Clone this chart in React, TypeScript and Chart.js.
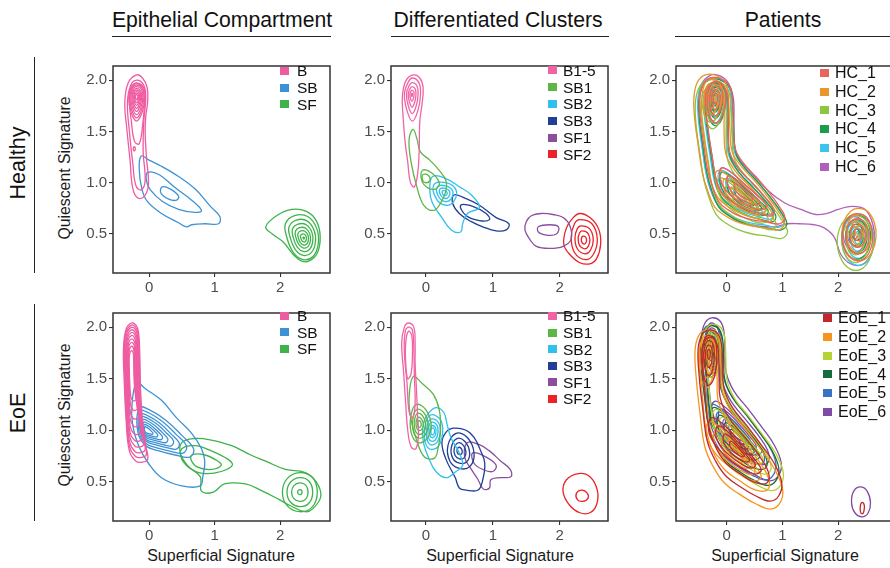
import React, { useEffect, useRef } from "react";
import { Chart, registerables } from "chart.js";
Chart.register(...registerables);

type Pt = [number, number];
type Ring = { pts: Pt[]; color: string };

const FONT = "'Liberation Sans', Arial, Helvetica, sans-serif";
Chart.defaults.font.family = FONT;

// ---------- axes / text ----------
const X_TICKS = [0, 1, 2];
const Y_TICKS = [0.5, 1.0, 1.5, 2.0];
const Y_MIN = 0.12;
const Y_MAX = 2.137;
const COL_X_MIN = [-0.55, -0.52, -0.91];
const COL_X_MAX = [2.76, 2.72, 3.11];

const COLUMN_TITLES = ["Epithelial Compartment", "Differentiated Clusters", "Patients"];
const ROW_TITLES = ["Healthy", "EoE"];
const Y_TITLE = "Quiescent Signature";
const X_TITLE = "Superficial Signature";

const COMP_LABELS = ["B", "SB", "SF"];
const COMP_COLORS = ["#EF5BA1", "#3D92D5", "#3DB34A"];
const CLUSTER_LABELS = ["B1-5", "SB1", "SB2", "SB3", "SF1", "SF2"];
const CLUSTER_COLORS = ["#F064A6", "#5DB545", "#2FC0EE", "#203F95", "#8C4E9F", "#EC2227"];
const HC_LABELS = ["HC_1", "HC_2", "HC_3", "HC_4", "HC_5", "HC_6"];
const HC_COLORS = ["#E9645A", "#E8962B", "#8DC63F", "#1A9C4A", "#3BC4EE", "#B060B8"];
const EOE_LABELS = ["EoE_1", "EoE_2", "EoE_3", "EoE_4", "EoE_5", "EoE_6"];
const EOE_COLORS = ["#C1272D", "#F7941D", "#B5D334", "#166B3A", "#3A73C4", "#7F4CA5"];

// ---------- Healthy / Epithelial compartment ----------
const H1_B_OUTER: Pt[] = [[-0.19,2.05],[-0.1,2.02],[-0.03,1.93],[-0.02,1.8],[-0.05,1.65],[-0.06,1.5],[-0.04,1.25],[-0.01,0.98],[-0.07,0.87],[-0.17,0.85],[-0.25,0.95],[-0.29,1.22],[-0.34,1.53],[-0.37,1.78],[-0.32,1.97]];
const H1_B_MID: Pt[] = [[-0.19,2.0],[-0.09,1.96],[-0.05,1.85],[-0.08,1.6],[-0.09,1.3],[-0.06,1.02],[-0.12,0.93],[-0.2,0.97],[-0.25,1.2],[-0.3,1.5],[-0.33,1.78],[-0.28,1.95]];
const H1_B_LONG: Pt[] = [[-0.19,1.97],[-0.1,1.92],[-0.07,1.8],[-0.1,1.55],[-0.15,1.38],[-0.22,1.4],[-0.27,1.6],[-0.3,1.8],[-0.26,1.93]];
const H1_B_SPOT: Pt[] = [[-0.23,1.35],[-0.21,1.34],[-0.22,1.31],[-0.24,1.32]];
const H1_B_CORE: Pt[] = [[-0.19,1.98],[-0.08,1.94],[-0.05,1.83],[-0.1,1.67],[-0.19,1.58],[-0.28,1.67],[-0.32,1.82],[-0.28,1.94]];
const H1_B_CENTER: Pt = [-0.19, 1.84];
const H1_B_LEVELS = [0.92, 0.8, 0.68, 0.56, 0.45, 0.34, 0.24, 0.13];
const H1_SB_OUTER: Pt[] = [[-0.12,1.26],[0.0,1.22],[0.19,1.16],[0.45,1.06],[0.7,0.94],[0.95,0.76],[1.08,0.67],[1.06,0.6],[0.85,0.6],[0.65,0.59],[0.57,0.57],[0.45,0.61],[0.19,0.7],[-0.03,0.82],[-0.11,0.94],[-0.15,1.13]];
const H1_SB_MID: Pt[] = [[-0.02,1.1],[0.15,1.08],[0.4,0.95],[0.65,0.83],[0.8,0.73],[0.7,0.71],[0.45,0.74],[0.2,0.82],[0.02,0.93],[-0.04,1.02]];
const H1_SB_CORE: Pt[] = [[0.2,0.96],[0.32,0.94],[0.45,0.87],[0.42,0.83],[0.3,0.84],[0.18,0.9]];
const H1_SF_OUTER: Pt[] = [[1.78,0.57],[1.95,0.68],[2.18,0.74],[2.4,0.72],[2.55,0.63],[2.61,0.48],[2.57,0.32],[2.45,0.24],[2.33,0.235],[2.2,0.3],[2.05,0.42],[1.88,0.5]];
const H1_SF_CORE: Pt[] = [[2.08,0.6],[2.22,0.68],[2.42,0.67],[2.56,0.55],[2.58,0.4],[2.5,0.28],[2.35,0.25],[2.2,0.32],[2.1,0.47]];
const H1_SF_CENTER: Pt = [2.36, 0.46];
const H1_SF_LEVELS = [1, 0.8, 0.62, 0.46, 0.32, 0.18, 0.04];

// ---------- Healthy / Differentiated clusters ----------
const H2_B_OUTER: Pt[] = [[-0.19,2.05],[-0.09,2.02],[-0.04,1.92],[-0.06,1.75],[-0.09,1.6],[-0.1,1.3],[-0.12,1.1],[-0.17,0.96],[-0.23,1.0],[-0.27,1.2],[-0.31,1.4],[-0.34,1.65],[-0.35,1.84],[-0.3,1.99]];
const H2_B_CORE: Pt[] = [[-0.2,2.02],[-0.1,1.97],[-0.08,1.85],[-0.12,1.7],[-0.2,1.6],[-0.28,1.7],[-0.32,1.86],[-0.27,1.97]];
const H2_B_CENTER: Pt = [-0.21, 1.86];
const H2_B_LEVELS = [1, 0.72, 0.48, 0.26, 0.08];
const H2_SB1_OUTER: Pt[] = [[-0.19,1.52],[-0.13,1.42],[-0.08,1.3],[0.06,1.22],[0.2,1.12],[0.3,1.02],[0.3,0.92],[0.22,0.8],[0.12,0.73],[-0.03,0.78],[-0.13,0.95],[-0.22,1.2],[-0.25,1.42]];
const H2_SB1_MID: Pt[] = [[-0.05,1.12],[0.08,1.1],[0.2,1.0],[0.15,0.94],[0.03,0.95],[-0.06,1.02]];
const H2_SB1_CORE: Pt[] = [[-0.04,1.08],[0.04,1.07],[0.06,1.02],[-0.01,1.0],[-0.05,1.03]];
const H2_SB2_OUTER: Pt[] = [[0.1,1.06],[0.3,1.04],[0.5,0.96],[0.68,0.88],[0.8,0.76],[0.62,0.7],[0.55,0.6],[0.52,0.52],[0.38,0.54],[0.24,0.66],[0.1,0.8],[0.06,0.92]];
const H2_SB2_CORE: Pt[] = [[0.12,0.98],[0.3,1.0],[0.45,0.93],[0.42,0.82],[0.3,0.78],[0.16,0.84]];
const H2_SB2_CENTER: Pt = [0.28, 0.9];
const H2_SB2_LEVELS = [1, 0.7, 0.45, 0.22];
const H2_SB3_OUTER: Pt[] = [[0.42,0.88],[0.55,0.86],[0.8,0.78],[1.05,0.66],[1.24,0.6],[1.2,0.54],[1.05,0.53],[0.85,0.57],[0.68,0.62],[0.5,0.7],[0.4,0.8]];
const H2_SB3_MID: Pt[] = [[0.52,0.78],[0.7,0.77],[0.9,0.7],[0.95,0.64],[0.8,0.63],[0.6,0.68]];
const H2_SF1_OUTER: Pt[] = [[1.5,0.62],[1.58,0.68],[1.72,0.7],[1.9,0.69],[2.05,0.66],[2.15,0.58],[2.17,0.45],[2.05,0.38],[1.85,0.36],[1.65,0.38],[1.55,0.45],[1.48,0.54]];
const H2_SF1_MID: Pt[] = [[1.68,0.57],[1.85,0.59],[1.98,0.57],[1.95,0.5],[1.8,0.49],[1.68,0.52]];
const H2_SF2_OUTER: Pt[] = [[2.3,0.7],[2.45,0.66],[2.58,0.55],[2.61,0.4],[2.55,0.26],[2.45,0.21],[2.3,0.22],[2.15,0.3],[2.06,0.4],[2.1,0.56],[2.2,0.66]];
const H2_SF2_CORE: Pt[] = [[2.3,0.64],[2.48,0.6],[2.56,0.45],[2.5,0.3],[2.38,0.25],[2.22,0.32],[2.17,0.47],[2.22,0.6]];
const H2_SF2_CENTER: Pt = [2.36, 0.44];
const H2_SF2_LEVELS = [1, 0.7, 0.45, 0.2];

// ---------- Healthy / Patients ----------
const HC_L_OUTER: Pt[] = [[-0.29,2.03],[-0.1,2.01],[0.04,1.93],[0.08,1.75],[0.1,1.52],[0.14,1.3],[0.3,1.16],[0.52,1.03],[0.75,0.88],[0.95,0.73],[1.05,0.62],[0.95,0.56],[0.7,0.58],[0.45,0.6],[0.2,0.64],[0.0,0.7],[-0.17,0.78],[-0.3,0.95],[-0.38,1.1],[-0.45,1.35],[-0.52,1.65],[-0.52,1.85],[-0.44,1.98]];
const HC_L_INNER: Pt[] = [[-0.27,1.98],[-0.12,1.96],[-0.02,1.88],[0.0,1.7],[0.0,1.45],[0.04,1.26],[0.22,1.1],[0.45,0.97],[0.68,0.83],[0.85,0.7],[0.8,0.64],[0.6,0.66],[0.35,0.7],[0.1,0.77],[-0.1,0.86],[-0.22,1.0],[-0.3,1.25],[-0.37,1.5],[-0.42,1.75],[-0.4,1.9]];
const HC_TOP_CORE: Pt[] = [[-0.24,1.99],[-0.1,1.96],[-0.04,1.85],[-0.08,1.7],[-0.16,1.6],[-0.26,1.58],[-0.35,1.66],[-0.39,1.8],[-0.34,1.94]];
const HC_TOP_CENTER: Pt = [-0.24, 1.83];
const HC_TOP_LEVELS = [1, 0.72, 0.48, 0.25];
const HC_MID_CORE: Pt[] = [[-0.12,1.12],[0.05,1.08],[0.3,0.96],[0.55,0.84],[0.72,0.74],[0.62,0.7],[0.4,0.73],[0.15,0.8],[-0.05,0.9],[-0.15,1.02]];
const HC_MID_CENTER: Pt = [0.3, 0.86];
const HC_MID_LEVELS = [1, 0.7, 0.4];
const HC_RIGHT_CORE: Pt[] = [[2.3,0.72],[2.48,0.69],[2.6,0.58],[2.63,0.44],[2.56,0.3],[2.42,0.22],[2.25,0.22],[2.1,0.3],[2.02,0.45],[2.06,0.6],[2.17,0.69]];
const HC_RIGHT_CENTER: Pt = [2.33, 0.5];
const HC_RIGHT_LEVELS = [1, 0.75, 0.5, 0.25];
const HC6_BRIDGE: Pt[] = [[-0.28,2.05],[-0.12,2.04],[0.03,1.97],[0.12,1.82],[0.13,1.6],[0.13,1.4],[0.2,1.25],[0.4,1.12],[0.75,0.92],[1.05,0.8],[1.33,0.74],[1.6,0.69],[1.8,0.7],[2.0,0.74],[2.25,0.77],[2.48,0.74],[2.62,0.6],[2.65,0.43],[2.57,0.28],[2.42,0.2],[2.22,0.21],[2.05,0.3],[1.93,0.47],[1.75,0.56],[1.57,0.59],[1.3,0.6],[1.09,0.6],[0.85,0.57],[0.55,0.58],[0.25,0.62],[0.0,0.7],[-0.18,0.8],[-0.32,0.98],[-0.4,1.2],[-0.47,1.5],[-0.5,1.75],[-0.46,1.95]];
const HC_ANCHOR: Pt = [0.2, 1.2];
const HC_DX = [0.02, -0.04, 0.0, 0.03, 0.0, 0.01];
const HC_DY = [0.02, 0.0, -0.07, -0.02, 0.0, 0.02];
const HC_SCALE = [0.97, 1.03, 1.05, 1.0, 0.99, 0.95];
const HC_RIGHT_DX = [0.02, 0.05, -0.02, 0.0, 0.03, -0.03];
const HC_RIGHT_DY = [0.0, 0.03, -0.05, 0.0, -0.03, 0.02];
const HC_RIGHT_SCALE = [0.9, 1.0, 1.05, 0.85, 0.95, 0.9];

// ---------- EoE / Epithelial compartment ----------
const E1_B_OUTER: Pt[] = [[-0.27,2.04],[-0.2,2.02],[-0.16,1.95],[-0.14,1.7],[-0.13,1.4],[-0.1,1.1],[-0.05,0.85],[-0.02,0.72],[-0.1,0.69],[-0.2,0.7],[-0.3,0.8],[-0.35,1.1],[-0.38,1.5],[-0.39,1.8],[-0.35,1.98]];
const E1_B_CENTER: Pt = [-0.27, 1.62];
const E1_B_LEVELS: Pt[] = [[0.92,0.95],[0.84,0.9],[0.76,0.84],[0.68,0.78],[0.6,0.71],[0.52,0.63],[0.44,0.55],[0.36,0.46],[0.28,0.36]];
const E1_SB_OUTER: Pt[] = [[-0.19,1.46],[-0.05,1.4],[0.19,1.29],[0.42,1.12],[0.65,0.97],[0.8,0.82],[0.85,0.7],[0.82,0.55],[0.78,0.46],[0.5,0.46],[0.19,0.54],[-0.01,0.68],[-0.16,0.85],[-0.25,1.05],[-0.26,1.25]];
const E1_SB_CORE: Pt[] = [[-0.15,1.22],[0.0,1.2],[0.25,1.1],[0.5,0.95],[0.68,0.82],[0.62,0.74],[0.4,0.76],[0.15,0.8],[-0.05,0.85],[-0.17,0.98]];
const E1_SB_CENTER: Pt = [-0.05, 1.0];
const E1_SB_LEVELS = [1, 0.85, 0.7, 0.58, 0.46, 0.35, 0.25, 0.15];
const E1_SF_OUTER: Pt[] = [[0.5,0.88],[0.7,0.92],[0.91,0.91],[1.26,0.85],[1.55,0.76],[1.78,0.7],[2.08,0.62],[2.38,0.59],[2.55,0.5],[2.62,0.36],[2.5,0.24],[2.38,0.21],[2.15,0.27],[1.98,0.33],[1.7,0.42],[1.47,0.48],[1.15,0.48],[0.98,0.4],[0.8,0.41],[0.78,0.55],[0.6,0.65],[0.48,0.77]];
const E1_SF_MID: Pt[] = [[0.5,0.82],[0.7,0.85],[0.95,0.8],[1.2,0.72],[1.27,0.66],[1.1,0.6],[0.85,0.58],[0.65,0.62],[0.5,0.72]];
const E1_SF_INNER: Pt[] = [[0.65,0.76],[0.85,0.76],[1.05,0.7],[1.1,0.66],[0.95,0.62],[0.75,0.64],[0.65,0.7]];
const E1_SF_BLOB: Pt[] = [[2.3,0.6],[2.5,0.55],[2.58,0.4],[2.5,0.25],[2.3,0.2],[2.1,0.26],[2.02,0.4],[2.1,0.54]];
const E1_SF_BLOB_CENTER: Pt = [2.3, 0.4];
const E1_SF_BLOB_LEVELS = [0.95, 0.7, 0.45, 0.12];

// ---------- EoE / Differentiated clusters ----------
const E2_B_OUTER: Pt[] = [[-0.26,2.04],[-0.18,2.0],[-0.16,1.85],[-0.16,1.65],[-0.14,1.4],[-0.12,1.1],[-0.11,0.95],[-0.15,0.82],[-0.22,0.84],[-0.27,1.0],[-0.3,1.25],[-0.33,1.55],[-0.36,1.85],[-0.32,2.0]];
const E2_B_MID: Pt[] = [[-0.26,2.0],[-0.2,1.97],[-0.18,1.8],[-0.17,1.5],[-0.16,1.25],[-0.2,1.12],[-0.25,1.18],[-0.28,1.45],[-0.32,1.75],[-0.31,1.95]];
const E2_B_CORE: Pt[] = [[-0.26,1.96],[-0.21,1.92],[-0.2,1.75],[-0.22,1.55],[-0.27,1.5],[-0.3,1.65],[-0.3,1.85]];
const E2_SB1_OUTER: Pt[] = [[-0.19,1.52],[-0.05,1.45],[0.11,1.35],[0.2,1.2],[0.22,1.0],[0.18,0.82],[0.13,0.73],[-0.02,0.74],[-0.14,0.91],[-0.22,1.1],[-0.25,1.3]];
const E2_SB1_CORE: Pt[] = [[-0.14,1.25],[0.0,1.2],[0.08,1.05],[0.02,0.92],[-0.12,0.88],[-0.22,0.98],[-0.22,1.15]];
const E2_SB1_CENTER: Pt = [-0.1, 1.06];
const E2_SB1_LEVELS = [1, 0.75, 0.55, 0.35, 0.18];
const E2_SB2_OUTER: Pt[] = [[0.16,1.22],[0.27,1.17],[0.32,1.05],[0.38,0.92],[0.5,0.78],[0.55,0.66],[0.45,0.6],[0.3,0.54],[0.15,0.6],[0.05,0.72],[-0.04,0.9],[-0.03,1.08],[0.06,1.18]];
const E2_SB2_CORE: Pt[] = [[0.08,1.15],[0.22,1.1],[0.25,0.97],[0.18,0.84],[0.05,0.82],[-0.02,0.92],[0.0,1.08]];
const E2_SB2_CENTER: Pt = [0.1, 0.99];
const E2_SB2_LEVELS = [1, 0.75, 0.55, 0.35, 0.2];
const E2_SB3_OUTER: Pt[] = [[0.41,1.02],[0.6,1.0],[0.72,0.93],[0.82,0.8],[0.88,0.68],[0.85,0.52],[0.78,0.42],[0.6,0.42],[0.5,0.44],[0.44,0.54],[0.3,0.72],[0.24,0.88],[0.3,0.98]];
const E2_SB3_CORE: Pt[] = [[0.45,0.97],[0.62,0.93],[0.72,0.78],[0.66,0.65],[0.5,0.63],[0.36,0.7],[0.33,0.85]];
const E2_SB3_CENTER: Pt = [0.5, 0.8];
const E2_SB3_LEVELS = [1, 0.7, 0.45, 0.2];
const E2_SF1_OUTER: Pt[] = [[0.62,0.88],[0.8,0.86],[0.95,0.8],[1.12,0.7],[1.26,0.62],[1.27,0.55],[1.1,0.54],[0.97,0.52],[0.95,0.44],[0.86,0.43],[0.78,0.52],[0.68,0.62],[0.58,0.74]];
const E2_SF1_MID: Pt[] = [[0.7,0.78],[0.9,0.74],[1.05,0.66],[1.0,0.6],[0.85,0.62],[0.72,0.68]];
const E2_SF2_OUTER: Pt[] = [[2.28,0.58],[2.45,0.55],[2.56,0.42],[2.55,0.28],[2.45,0.2],[2.3,0.2],[2.15,0.27],[2.05,0.4],[2.1,0.52]];
const E2_SF2_INNER: Pt[] = [[2.33,0.42],[2.41,0.39],[2.42,0.34],[2.34,0.31],[2.26,0.33],[2.25,0.39]];

// ---------- EoE / Patients ----------
const EOE_L_OUTER: Pt[] = [[-0.3,2.03],[-0.15,2.0],[-0.08,1.9],[-0.06,1.7],[-0.04,1.5],[0.1,1.32],[0.35,1.15],[0.6,0.97],[0.82,0.8],[0.95,0.62],[0.9,0.5],[0.75,0.45],[0.5,0.5],[0.25,0.58],[0.0,0.68],[-0.18,0.82],[-0.32,1.0],[-0.4,1.3],[-0.46,1.6],[-0.48,1.85],[-0.42,1.98]];
const EOE_L_INNER: Pt[] = [[-0.3,1.96],[-0.18,1.93],[-0.13,1.8],[-0.12,1.6],[-0.1,1.4],[0.05,1.22],[0.3,1.05],[0.55,0.88],[0.72,0.72],[0.7,0.62],[0.5,0.62],[0.25,0.7],[0.0,0.8],[-0.18,0.95],[-0.3,1.15],[-0.36,1.45],[-0.4,1.7],[-0.4,1.88]];
const EOE_TOP_CORE: Pt[] = [[-0.3,1.98],[-0.19,1.93],[-0.16,1.78],[-0.2,1.6],[-0.3,1.52],[-0.39,1.62],[-0.42,1.8],[-0.38,1.93]];
const EOE_TOP_CENTER: Pt = [-0.3, 1.82];
const EOE_TOP_LEVELS = [1, 0.7, 0.45, 0.2];
const EOE_MID_CORE: Pt[] = [[-0.25,1.22],[-0.05,1.16],[0.2,1.02],[0.45,0.86],[0.6,0.74],[0.5,0.7],[0.25,0.76],[0.0,0.86],[-0.2,0.98],[-0.3,1.1]];
const EOE_MID_CENTER: Pt = [0.2, 0.92];
const EOE_MID_LEVELS = [1, 0.75, 0.5, 0.28];
const EOE_ANCHOR: Pt = [0.2, 1.2];
const EOE_DX = [0.0, -0.02, 0.05, 0.0, -0.03, 0.03];
const EOE_DY = [-0.1, -0.14, -0.02, 0.0, 0.03, 0.06];
const EOE_SCALE = [1.05, 1.1, 1.02, 0.98, 0.95, 1.0];
const EOE6_SMALL: Pt[] = [[2.4,0.45],[2.52,0.41],[2.58,0.3],[2.54,0.2],[2.43,0.16],[2.3,0.2],[2.24,0.3],[2.28,0.41]];
const EOE1_SMALL: Pt[] = [[2.43,0.3],[2.47,0.27],[2.46,0.21],[2.43,0.19],[2.4,0.21],[2.4,0.27]];

// ---------- helpers ----------
function nest(base: Pt[], c: Pt, levels: (number | Pt)[]): Pt[][] {
  return levels.map((l) => {
    const sx = Array.isArray(l) ? l[0] : l;
    const sy = Array.isArray(l) ? l[1] : l;
    return base.map(([x, y]) => [c[0] + (x - c[0]) * sx, c[1] + (y - c[1]) * sy] as Pt);
  });
}
function shift(pts: Pt[], a: Pt, s: number, dx: number, dy: number): Pt[] {
  return pts.map(([x, y]) => [a[0] + (x - a[0]) * s + dx, a[1] + (y - a[1]) * s + dy] as Pt);
}
const R = (color: string, list: Pt[][]): Ring[] => list.map((pts) => ({ pts, color }));

function hcRings(i: number): Ring[] {
  const t = (p: Pt[]) => shift(p, HC_ANCHOR, HC_SCALE[i], HC_DX[i], HC_DY[i]);
  const r = (p: Pt[]) => shift(p, HC_RIGHT_CENTER, HC_RIGHT_SCALE[i], HC_RIGHT_DX[i], HC_RIGHT_DY[i]);
  const list: Pt[][] = [];
  list.push(i === 5 ? HC6_BRIDGE : t(HC_L_OUTER));
  list.push(t(HC_L_INNER));
  nest(HC_TOP_CORE, HC_TOP_CENTER, HC_TOP_LEVELS).forEach((p) => list.push(t(p)));
  nest(HC_MID_CORE, HC_MID_CENTER, HC_MID_LEVELS).forEach((p) => list.push(t(p)));
  nest(HC_RIGHT_CORE, HC_RIGHT_CENTER, i === 5 ? HC_RIGHT_LEVELS.slice(1) : HC_RIGHT_LEVELS).forEach((p) => list.push(r(p)));
  return R(HC_COLORS[i], list);
}
function eoeRings(i: number): Ring[] {
  const t = (p: Pt[]) => shift(p, EOE_ANCHOR, EOE_SCALE[i], EOE_DX[i], EOE_DY[i]);
  const list: Pt[][] = [t(EOE_L_OUTER), t(EOE_L_INNER)];
  nest(EOE_TOP_CORE, EOE_TOP_CENTER, EOE_TOP_LEVELS).forEach((p) => list.push(t(p)));
  nest(EOE_MID_CORE, EOE_MID_CENTER, EOE_MID_LEVELS).forEach((p) => list.push(t(p)));
  if (i === 0) list.push(EOE1_SMALL);
  if (i === 5) list.push(EOE6_SMALL);
  return R(EOE_COLORS[i], list);
}

const PANEL_RINGS: Ring[][][] = [
  [
    [
      ...R(COMP_COLORS[0], [H1_B_OUTER, H1_B_MID, H1_B_LONG, H1_B_SPOT, ...nest(H1_B_CORE, H1_B_CENTER, H1_B_LEVELS)]),
      ...R(COMP_COLORS[1], [H1_SB_OUTER, H1_SB_MID, H1_SB_CORE]),
      ...R(COMP_COLORS[2], [H1_SF_OUTER, ...nest(H1_SF_CORE, H1_SF_CENTER, H1_SF_LEVELS)]),
    ],
    [
      ...R(CLUSTER_COLORS[0], [H2_B_OUTER, ...nest(H2_B_CORE, H2_B_CENTER, H2_B_LEVELS)]),
      ...R(CLUSTER_COLORS[1], [H2_SB1_OUTER, H2_SB1_MID, H2_SB1_CORE]),
      ...R(CLUSTER_COLORS[2], [H2_SB2_OUTER, ...nest(H2_SB2_CORE, H2_SB2_CENTER, H2_SB2_LEVELS)]),
      ...R(CLUSTER_COLORS[3], [H2_SB3_OUTER, H2_SB3_MID]),
      ...R(CLUSTER_COLORS[4], [H2_SF1_OUTER, H2_SF1_MID]),
      ...R(CLUSTER_COLORS[5], [H2_SF2_OUTER, ...nest(H2_SF2_CORE, H2_SF2_CENTER, H2_SF2_LEVELS)]),
    ],
    [0, 1, 2, 3, 4, 5].flatMap(hcRings),
  ],
  [
    [
      ...R(COMP_COLORS[0], [E1_B_OUTER, ...nest(E1_B_OUTER, E1_B_CENTER, E1_B_LEVELS)]),
      ...R(COMP_COLORS[1], [E1_SB_OUTER, ...nest(E1_SB_CORE, E1_SB_CENTER, E1_SB_LEVELS)]),
      ...R(COMP_COLORS[2], [E1_SF_OUTER, E1_SF_MID, E1_SF_INNER, ...nest(E1_SF_BLOB, E1_SF_BLOB_CENTER, E1_SF_BLOB_LEVELS)]),
    ],
    [
      ...R(CLUSTER_COLORS[0], [E2_B_OUTER, E2_B_MID, E2_B_CORE]),
      ...R(CLUSTER_COLORS[1], [E2_SB1_OUTER, ...nest(E2_SB1_CORE, E2_SB1_CENTER, E2_SB1_LEVELS)]),
      ...R(CLUSTER_COLORS[2], [E2_SB2_OUTER, ...nest(E2_SB2_CORE, E2_SB2_CENTER, E2_SB2_LEVELS)]),
      ...R(CLUSTER_COLORS[3], [E2_SB3_OUTER, ...nest(E2_SB3_CORE, E2_SB3_CENTER, E2_SB3_LEVELS)]),
      ...R(CLUSTER_COLORS[4], [E2_SF1_OUTER, E2_SF1_MID]),
      ...R(CLUSTER_COLORS[5], [E2_SF2_OUTER, E2_SF2_INNER]),
    ],
    [0, 1, 2, 3, 4, 5].flatMap(eoeRings),
  ],
];

// ---------- layout ----------
const COL_LEFT = [113, 391, 676];
const COL_W = [217, 217, 224];
const ROW_TOP = [57, 304];
const ROW_H = [216, 217];
const YW = 44;
const XH = 26;
const PAD = 2;

function ringDataset(ring: Ring) {
  const p = ring.pts;
  const n = p.length;
  const seq = [p[n - 1], ...p, p[0], p[1]].map(([x, y]) => ({ x, y }));
  const color = ring.color;
  return {
    data: seq,
    showLine: true,
    borderColor: color,
    borderWidth: 1.3,
    pointRadius: 0,
    pointHoverRadius: 0,
    tension: 0.4,
    fill: false,
    segment: {
      borderColor: (ctx: any) => (ctx.p0DataIndex === 0 || ctx.p0DataIndex === n + 1 ? "rgba(0,0,0,0)" : color),
    },
  };
}

const boxPlugin = {
  id: "box",
  afterDraw(chart: any) {
    const { ctx, chartArea: a } = chart;
    ctx.save();
    ctx.strokeStyle = "#333";
    ctx.lineWidth = 1.5;
    ctx.strokeRect(a.left, a.top, a.right - a.left, a.bottom - a.top);
    ctx.restore();
  },
};

function Panel({ row, col }: { row: number; col: number }) {
  const ref = useRef<HTMLCanvasElement>(null);
  const w = YW + COL_W[col] + PAD;
  const h = PAD + ROW_H[row] + XH;
  useEffect(() => {
    const tickFont = { size: 15, family: FONT };
    const grid = { display: true, drawOnChartArea: false, drawTicks: true, tickLength: 4, color: "#333", lineWidth: 1.1 };
    const chart = new Chart(ref.current!, {
      type: "scatter",
      data: { datasets: PANEL_RINGS[row][col].map(ringDataset) as any },
      options: {
        animation: false,
        responsive: false,
        events: [],
        layout: { padding: { top: PAD, right: PAD, left: 0, bottom: 0 } },
        plugins: { legend: { display: false }, tooltip: { enabled: false } },
        scales: {
          x: {
            type: "linear",
            min: COL_X_MIN[col],
            max: COL_X_MAX[col],
            afterBuildTicks: (s: any) => { s.ticks = X_TICKS.map((v) => ({ value: v })); },
            afterFit: (s: any) => { s.height = XH; },
            grid,
            border: { display: false },
            ticks: { font: tickFont, color: "#4d4d4d", padding: 2, maxRotation: 0, autoSkip: false, callback: (v: any) => String(v) },
          },
          y: {
            type: "linear",
            min: Y_MIN,
            max: Y_MAX,
            afterBuildTicks: (s: any) => { s.ticks = Y_TICKS.map((v) => ({ value: v })); },
            afterFit: (s: any) => { s.width = YW; },
            grid,
            border: { display: false },
            ticks: { font: tickFont, color: "#4d4d4d", padding: 2, autoSkip: false, callback: (v: any) => Number(v).toFixed(1) },
          },
        },
      } as any,
      plugins: [boxPlugin],
    });
    return () => chart.destroy();
  }, [row, col]);
  return (
    <canvas
      ref={ref}
      width={w}
      height={h}
      style={{ position: "absolute", left: COL_LEFT[col] - YW, top: ROW_TOP[row] - PAD, width: w, height: h }}
    />
  );
}

function Text({ x, base, size, children, color = "#111" }: any) {
  return (
    <div style={{ position: "absolute", left: x, top: base - 0.8465 * size, fontSize: size, lineHeight: `${size}px`, transform: "translateX(-50%)", whiteSpace: "nowrap", color }}>
      {children}
    </div>
  );
}
function VText({ cx, cy, size, children, color = "#111" }: any) {
  return (
    <div style={{ position: "absolute", left: cx, top: cy, fontSize: size, lineHeight: `${size}px`, transform: "translate(-50%,-50%) rotate(-90deg)", whiteSpace: "nowrap", color }}>
      {children}
    </div>
  );
}
function Legend({ sqX, textX, y0, step, size, labels, colors }: any) {
  return (
    <>
      {labels.map((l: string, i: number) => {
        const cy = y0 + i * step;
        return (
          <React.Fragment key={l}>
            <div style={{ position: "absolute", left: sqX, top: cy - 4, width: 9, height: 8, background: colors[i] }} />
            <div style={{ position: "absolute", left: textX, top: cy - 0.4885 * size, fontSize: size, lineHeight: `${size}px`, whiteSpace: "nowrap", color: "#111" }}>{l}</div>
          </React.Fragment>
        );
      })}
    </>
  );
}

const TITLE_CX = [222, 498, 783];
const UNDERLINES = [[112, 331], [391, 609], [675, 895]];
const XTITLE_CX = [221, 500, 785];
const ROW_CY = [163, 413];
const ROW_LINE = [[57, 273], [304, 521]];
const YTITLE_CY = [168, 415];

export default function App() {
  return (
    <div style={{ position: "fixed", left: 0, top: 0, width: 890, height: 568, overflow: "hidden", background: "#fff", fontFamily: FONT }}>
      {COLUMN_TITLES.map((t, i) => (
        <React.Fragment key={t}>
          <Text x={TITLE_CX[i]} base={27} size={21.2}>{t}</Text>
          <div style={{ position: "absolute", left: UNDERLINES[i][0], top: 35.5, width: UNDERLINES[i][1] - UNDERLINES[i][0], height: 1.5, background: "#222" }} />
        </React.Fragment>
      ))}
      {ROW_TITLES.map((t, i) => (
        <React.Fragment key={t}>
          <VText cx={19} cy={ROW_CY[i]} size={21.5}>{t}</VText>
          <div style={{ position: "absolute", left: 33.5, top: ROW_LINE[i][0], width: 1.5, height: ROW_LINE[i][1] - ROW_LINE[i][0], background: "#222" }} />
          <VText cx={65} cy={YTITLE_CY[i]} size={15.8} color="#1a1a1a">{Y_TITLE}</VText>
        </React.Fragment>
      ))}
      {XTITLE_CX.map((cx, i) => (
        <Text key={i} x={cx} base={562} size={16} color="#1a1a1a">{X_TITLE}</Text>
      ))}
      {[0, 1].map((r) => [0, 1, 2].map((c) => <Panel key={`${r}-${c}`} row={r} col={c} />))}
      <Legend sqX={280} textX={297} y0={71} step={16.6} size={15.5} labels={COMP_LABELS} colors={COMP_COLORS} />
      <Legend sqX={548} textX={563} y0={70.3} step={16.8} size={15.5} labels={CLUSTER_LABELS} colors={CLUSTER_COLORS} />
      <Legend sqX={820} textX={835} y0={72.8} step={18.8} size={16} labels={HC_LABELS} colors={HC_COLORS} />
      <Legend sqX={280} textX={297} y0={315.5} step={16.6} size={15.5} labels={COMP_LABELS} colors={COMP_COLORS} />
      <Legend sqX={548} textX={563} y0={316} step={16.6} size={15.5} labels={CLUSTER_LABELS} colors={CLUSTER_COLORS} />
      <Legend sqX={823} textX={838} y0={318} step={18.8} size={16} labels={EOE_LABELS} colors={EOE_COLORS} />
    </div>
  );
}
